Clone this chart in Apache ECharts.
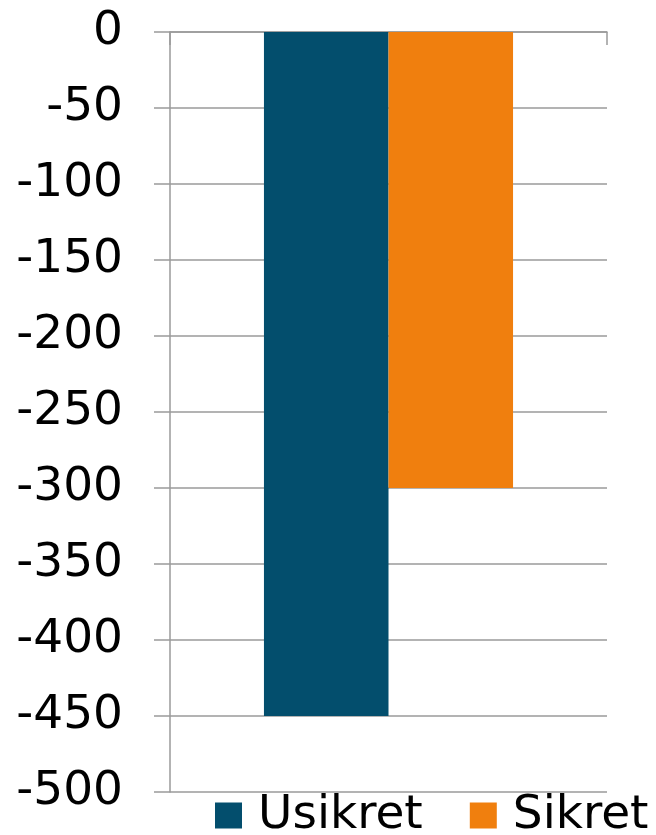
<!DOCTYPE html>
<html>
<head>
<meta charset="utf-8">
<script src="https://cdn.jsdelivr.net/npm/echarts@6/dist/echarts.min.js"></script>
<style>html,body{margin:0;padding:0;background:#fff}#c{width:656px;height:835px}</style>
</head>
<body>
<div id="c"></div>
<script>
var categories = [''];
var seriesNames = ['Usikret', 'Sikret'];
var usikret = [-450];
var sikret = [-300];
var yMin = -500, yMax = 0, yStep = 50;

var chart = echarts.init(document.getElementById('c'));
var font = 'DejaVu Sans, Verdana, sans-serif';
var gray = '#9a9a9a';
chart.setOption({
  animation: false,
  grid: { left: 170, right: 49, top: 32, bottom: 43, containLabel: false },
  legend: {
    left: 215, top: 792, padding: 0,
    itemWidth: 27, itemHeight: 26, itemGap: 47,
    icon: 'rect',
    data: seriesNames,
    textStyle: { fontFamily: font, fontSize: 47, color: '#000', lineHeight: 47, padding: [0, 0, 0, 11] }
  },
  xAxis: {
    type: 'category', data: categories,
    axisLine: { show: true, onZero: true, lineStyle: { color: gray, width: 1.5 } },
    axisTick: { show: true, length: 13, inside: false, lineStyle: { color: gray, width: 1.5 } },
    axisLabel: { show: false }
  },
  yAxis: {
    type: 'value', min: yMin, max: yMax, interval: yStep,
    axisLine: { show: true, lineStyle: { color: gray, width: 1.5 } },
    axisTick: { show: true, length: 16, lineStyle: { color: gray, width: 1.5 } },
    splitLine: { show: true, lineStyle: { color: gray, width: 1.5 } },
    axisLabel: { fontFamily: font, fontSize: 47, color: '#000', margin: 47 }
  },
  series: [
    { name: seriesNames[0], type: 'bar', data: usikret, barGap: '0%', barCategoryGap: '43%', itemStyle: { color: '#034e6d' } },
    { name: seriesNames[1], type: 'bar', data: sikret, barGap: '0%', barCategoryGap: '43%', itemStyle: { color: '#f07f0e' } }
  ]
});
</script>
</body>
</html>
